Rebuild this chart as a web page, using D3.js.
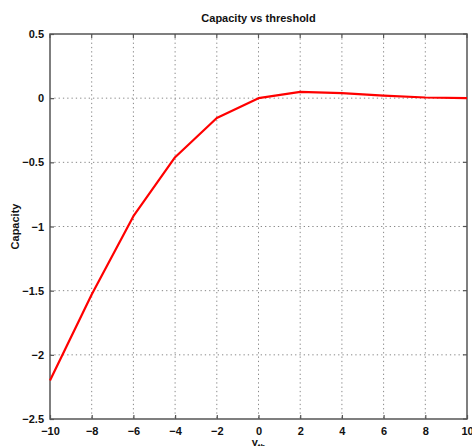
<!DOCTYPE html>
<html>
<head>
<meta charset="utf-8">
<script src="https://cdn.jsdelivr.net/npm/d3@7"></script>
<style>
  body { margin: 0; background: #fff; }
  svg text { font-family: "Liberation Sans", Arial, sans-serif; font-weight: bold; }
</style>
</head>
<body>
<svg id="chart" width="472" height="446"></svg>
<script>
const thresholds = [-10, -8, -6, -4, -2, 0, 2, 4, 6, 8, 10];
const capacity = [-2.2, -1.53, -0.92, -0.46, -0.155, 0, 0.049, 0.039, 0.02, 0.005, 0];
const xTicks = [-10, -8, -6, -4, -2, 0, 2, 4, 6, 8, 10];
const yTicks = [0.5, 0, -0.5, -1, -1.5, -2, -2.5];

const svg = d3.select("#chart");
const margin = { top: 34, right: 5, bottom: 27, left: 50 };
const width = +svg.attr("width") - margin.left - margin.right;
const height = +svg.attr("height") - margin.top - margin.bottom;
const g = svg.append("g").attr("transform", `translate(${margin.left},${margin.top})`);

const xScale = d3.scaleLinear().domain([-10, 10]).range([0, width]);
const yScale = d3.scaleLinear().domain([-2.5, 0.5]).range([height, 0]);

// dotted grid
g.append("g").selectAll("line").data(xTicks.slice(1, -1)).join("line")
    .attr("x1", d => xScale(d)).attr("x2", d => xScale(d))
    .attr("y1", 0).attr("y2", height)
    .attr("stroke", "#888").attr("stroke-width", 1).attr("stroke-dasharray", "1.3,3");
g.append("g").selectAll("line").data(yTicks.slice(1, -1)).join("line")
    .attr("x1", 0).attr("x2", width)
    .attr("y1", d => yScale(d)).attr("y2", d => yScale(d))
    .attr("stroke", "#888").attr("stroke-width", 1).attr("stroke-dasharray", "1.3,3");

// axes
const xAxis = g.append("g").attr("transform", `translate(0,${height})`)
    .call(d3.axisBottom(xScale).tickValues(xTicks).tickSize(-4).tickPadding(8)
        .tickFormat(d => d < 0 ? "\u2212" + Math.abs(d) : d));
const yAxis = g.append("g")
    .call(d3.axisLeft(yScale).tickValues(yTicks).tickSize(-4).tickPadding(6)
        .tickFormat(d => d < 0 ? "\u2212" + Math.abs(d) : d));
[xAxis, yAxis].forEach(a => {
    a.select(".domain").remove();
    a.selectAll("line").attr("stroke", "#555").attr("stroke-width", 1.2);
    a.selectAll("text").attr("font-size", 11).attr("fill", "#111");
});

// frame
g.append("rect").attr("width", width).attr("height", height)
    .attr("fill", "none").attr("stroke", "#555").attr("stroke-width", 1.5);

// top and right ticks
g.append("g").selectAll("line").data(xTicks).join("line")
    .attr("x1", d => xScale(d)).attr("x2", d => xScale(d))
    .attr("y1", 0).attr("y2", 4).attr("stroke", "#555").attr("stroke-width", 1.2);
g.append("g").selectAll("line").data(yTicks).join("line")
    .attr("x1", width).attr("x2", width - 4)
    .attr("y1", d => yScale(d)).attr("y2", d => yScale(d)).attr("stroke", "#555").attr("stroke-width", 1.2);

// data line
const line = d3.line().x((d, i) => xScale(thresholds[i])).y(d => yScale(d));
g.append("path").datum(capacity)
    .attr("fill", "none").attr("stroke", "#ff0000").attr("stroke-width", 2.2)
    .attr("stroke-linejoin", "round")
    .attr("d", line);

// title and labels
svg.append("text").attr("x", margin.left + width / 2).attr("y", 22)
    .attr("text-anchor", "middle").attr("font-size", 11).attr("fill", "#111")
    .text("Capacity vs threshold");
svg.append("text").attr("transform", `translate(19,${margin.top + height / 2}) rotate(-90)`)
    .attr("text-anchor", "middle").attr("font-size", 11).attr("fill", "#111")
    .text("Capacity");
const xl = svg.append("text").attr("x", margin.left + xScale(0)).attr("y", 446)
    .attr("text-anchor", "middle").attr("font-size", 11).attr("fill", "#111");
xl.append("tspan").text("\u03b3");
xl.append("tspan").attr("font-size", 8).attr("dy", 3).text("th");
</script>
</body>
</html>
